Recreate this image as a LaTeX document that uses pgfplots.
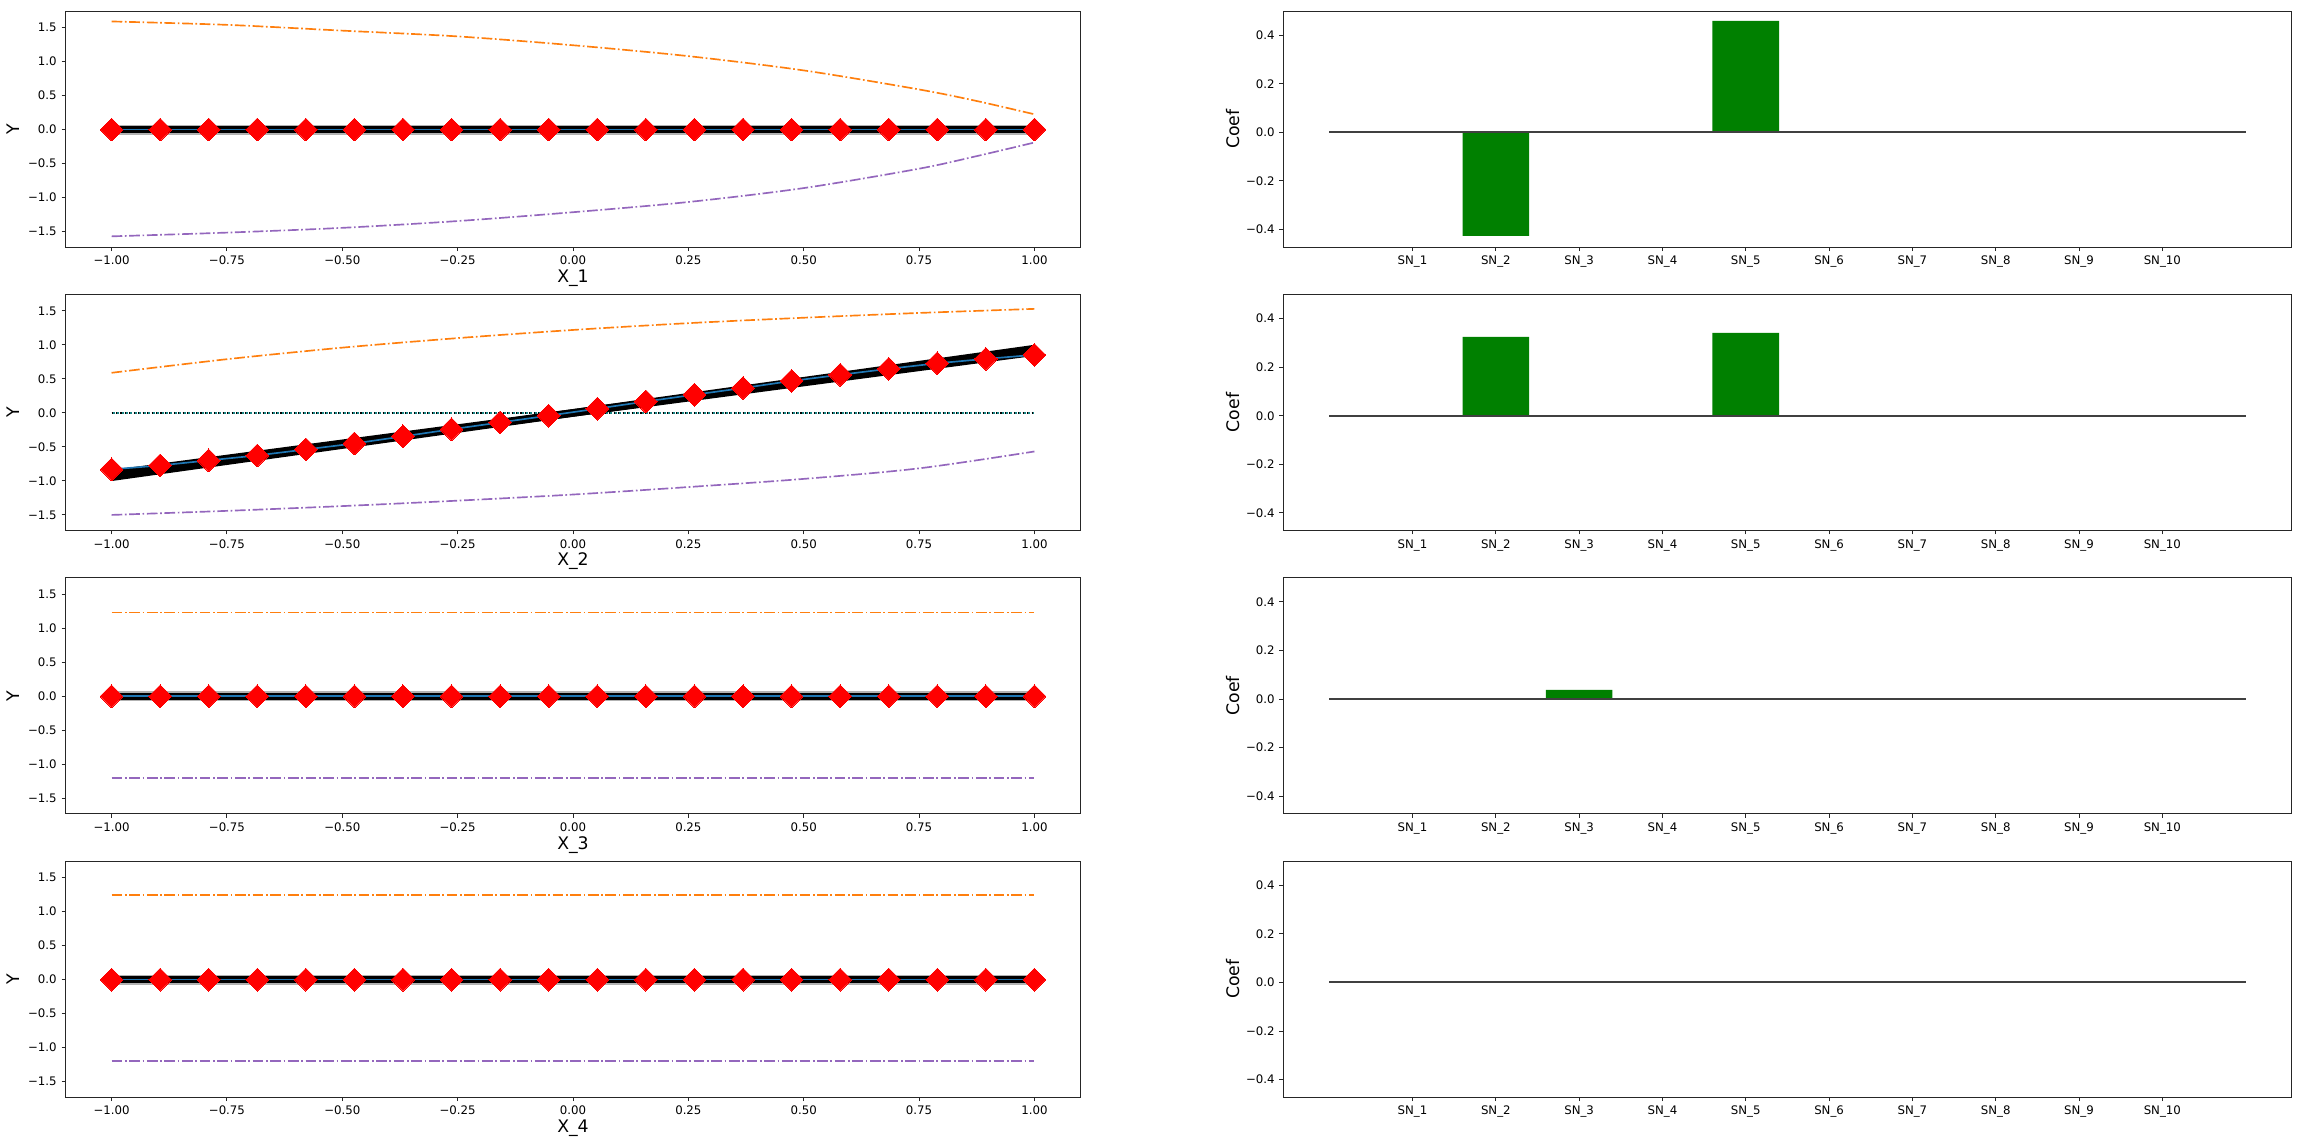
\documentclass[border=0pt]{standalone}
\usepackage{fontspec}
\setmainfont{DejaVu Sans}
\usepackage{pgfplots}
\pgfplotsset{compat=1.18}

\definecolor{tabblue}{HTML}{1F77B4}
\definecolor{taborange}{HTML}{FF7F0E}
\definecolor{tabpurple}{HTML}{9467BD}
\definecolor{bargreen}{HTML}{008000}
\definecolor{zeroline}{HTML}{404040}
\definecolor{dotteal}{HTML}{1A8585}

% 1 px of the reference = 0.72bp
\pgfplotsset{
  mpl/.style={scale only axis, anchor=north west,
    axis line style={line width=0.7bp,black!85},
    tick style={line width=0.7bp,black!85},
    tick align=outside, major tick length=2.8bp, tick pos=left,
    tick label style={font=\fontsize{8.5}{10}\selectfont},
    label style={font=\fontsize{12.5}{15}\selectfont}},
  fnpanel/.style={mpl, width=730.9bp, height=169.9bp,
    xmin=-1.1, xmax=1.1, ymin=-1.73, ymax=1.74,
    xtick={-1,-0.75,-0.5,-0.25,0,0.25,0.5,0.75,1},
    xticklabels={−1.00,−0.75,−0.50,−0.25,0.00,0.25,0.50,0.75,1.00},
    ytick={-1.5,-1,-0.5,0,0.5,1,1.5},
    yticklabels={−1.5,−1.0,−0.5,0.0,0.5,1.0,1.5},
    ylabel={Y},
    ylabel style={at={(axis description cs:-0.0512,0.5)},anchor=center},
    xlabel style={at={(axis description cs:0.5,-0.131)},anchor=center}},
  coefpanel/.style={mpl, width=725.8bp, height=169.9bp,
    xmin=-0.55, xmax=11.55, ymin=-0.473, ymax=0.499,
    xtick={1,2,3,4,5,6,7,8,9,10},
    xticklabels={SN\_1,SN\_2,SN\_3,SN\_4,SN\_5,SN\_6,SN\_7,SN\_8,SN\_9,SN\_10},
    ytick={-0.4,-0.2,0,0.2,0.4},
    yticklabels={−0.4,−0.2,0.0,0.2,0.4},
    ylabel={Coef},
    ylabel style={at={(axis description cs:-0.0501,0.5)},anchor=center}},
  bounds/.style={line width=1.2bp, dash pattern=on 7.7bp off 1.9bp on 1.2bp off 1.9bp},
  diam/.style={only marks, mark=square*, mark size=5.8bp,
    mark options={rotate=45, fill=red, draw=red, line width=0pt}},
  bars/.style={ybar, bar width=0.8, fill=bargreen, draw=none},
  zline/.style={zeroline, line width=1.45bp},
}

\pgfplotstableread{
x y
-1.000000 0
-0.894737 0
-0.789474 0
-0.684211 0
-0.578947 0
-0.473684 0
-0.368421 0
-0.263158 0
-0.157895 0
-0.052632 0
0.052632 0
0.157895 0
0.263158 0
0.368421 0
0.473684 0
0.578947 0
0.684211 0
0.789474 0
0.894737 0
1.000000 0
}\flatpts

\pgfplotstableread{
x y
-1.000000 -0.830
-0.894737 -0.772
-0.789474 -0.698
-0.684211 -0.625
-0.578947 -0.537
-0.473684 -0.449
-0.368421 -0.345
-0.263158 -0.240
-0.157895 -0.140
-0.052632 -0.040
0.052632 0.063
0.157895 0.168
0.263158 0.268
0.368421 0.366
0.473684 0.470
0.578947 0.561
0.684211 0.649
0.789474 0.730
0.894737 0.795
1.000000 0.854
}\sinpts

\pgfplotstableread{
x y
1 0
2 -0.426
3 0
4 0
5 0.459
6 0
7 0
8 0
9 0
10 0
}\coefA
\pgfplotstableread{
x y
1 0
2 0.325
3 0
4 0
5 0.341
6 0
7 0
8 0
9 0
10 0
}\coefB
\pgfplotstableread{
x y
1 0
2 0
3 0.038
4 0
5 0
6 0
7 0
8 0
9 0
10 0
}\coefC

\begin{document}
\begin{tikzpicture}
\path[use as bounding box] (0,0) rectangle (1661bp,-825.8bp);

% ---- row 1
\begin{axis}[fnpanel, at={(47.1bp,-8.1bp)}, xlabel={X\_1}]
  \addplot[taborange, bounds, smooth] coordinates {(-1,1.59) (-0.75,1.54) (-0.5,1.455) (-0.25,1.37) (0,1.24) (0.25,1.08) (0.5,0.87) (0.75,0.59) (0.875,0.42) (1,0.225)};
  \addplot[tabpurple, bounds, smooth] coordinates {(-1,-1.57) (-0.75,-1.515) (-0.5,-1.445) (-0.25,-1.345) (0,-1.215) (0.25,-1.065) (0.5,-0.86) (0.75,-0.575) (0.875,-0.39) (1,-0.19)};
  \addplot[gray!60, line width=7.2bp] coordinates {(-1,0) (1,0)};
  \addplot[black, line width=5bp] coordinates {(-1,0) (1,0)};
  \addplot[tabblue, line width=1.2bp] table {\flatpts};
  \addplot[diam] table {\flatpts};
\end{axis}
\begin{axis}[coefpanel, at={(924bp,-8.1bp)}]
  \addplot[bars] table {\coefA};
  \addplot[zline] coordinates {(0,0) (11,0)};
\end{axis}

% ---- row 2
\begin{axis}[fnpanel, at={(47.1bp,-212.1bp)}, xlabel={X\_2}]
  \addplot[taborange, bounds, smooth] coordinates {(-1,0.59) (-0.75,0.79) (-0.5,0.96) (-0.25,1.10) (0,1.22) (0.25,1.32) (0.5,1.40) (0.75,1.47) (1,1.53)};
  \addplot[tabpurple, bounds, smooth] coordinates {(-1,-1.5) (-0.75,-1.44) (-0.5,-1.37) (-0.25,-1.29) (0,-1.2) (0.25,-1.09) (0.5,-0.97) (0.75,-0.815) (1,-0.567)};
  \addplot[dotteal, line width=1.4bp, dash pattern=on 2.2bp off 1bp] coordinates {(-1,0) (1,0)};
  \addplot[black, line width=1.4bp, dash pattern=on 0.8bp off 2.4bp] coordinates {(-1,0) (1,0)};
  \addplot[black, line width=5.5bp] coordinates {(-1,-0.945) (1,0.945)};
  \addplot[black, line width=5.5bp] coordinates {(-1,-0.895) (1,0.895)};
  \addplot[tabblue, line width=1.2bp] table {\sinpts};
  \addplot[diam] table {\sinpts};
\end{axis}
\begin{axis}[coefpanel, at={(924bp,-212.1bp)}]
  \addplot[bars] table {\coefB};
  \addplot[zline] coordinates {(0,0) (11,0)};
\end{axis}

% ---- row 3
\begin{axis}[fnpanel, at={(47.1bp,-416.1bp)}, xlabel={X\_3}]
  \addplot[taborange, bounds] coordinates {(-1,1.23) (1,1.23)};
  \addplot[tabpurple, bounds] coordinates {(-1,-1.20) (1,-1.20)};
  \addplot[gray!60, line width=7.2bp] coordinates {(-1,0) (1,0)};
  \addplot[black, line width=5bp] coordinates {(-1,0) (1,0)};
  \addplot[tabblue, line width=1.2bp] table {\flatpts};
  \addplot[diam] table {\flatpts};
\end{axis}
\begin{axis}[coefpanel, at={(924bp,-416.1bp)}]
  \addplot[bars] table {\coefC};
  \addplot[zline] coordinates {(0,0) (11,0)};
\end{axis}

% ---- row 4
\begin{axis}[fnpanel, at={(47.1bp,-620.1bp)}, xlabel={X\_4}]
  \addplot[taborange, bounds] coordinates {(-1,1.24) (1,1.24)};
  \addplot[tabpurple, bounds] coordinates {(-1,-1.20) (1,-1.20)};
  \addplot[gray!60, line width=7.2bp] coordinates {(-1,0) (1,0)};
  \addplot[black, line width=5bp] coordinates {(-1,0) (1,0)};
  \addplot[tabblue, line width=1.2bp] table {\flatpts};
  \addplot[diam] table {\flatpts};
\end{axis}
\begin{axis}[coefpanel, at={(924bp,-620.1bp)}]
  \addplot[zline] coordinates {(0,0) (11,0)};
\end{axis}
\end{tikzpicture}
\end{document}
